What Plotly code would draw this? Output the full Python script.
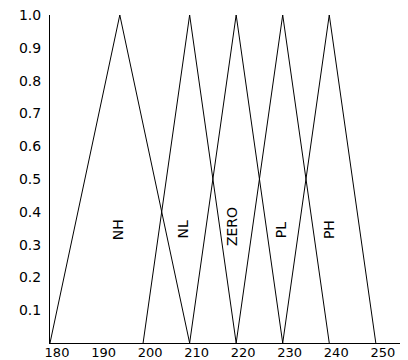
import plotly.graph_objects as go

names = ["NH", "NL", "ZERO", "PL", "PH"]
starts = [180, 200, 210, 220, 230]
peaks = [195, 210, 220, 230, 240]
ends = [210, 220, 230, 240, 250]
label_x = [194.5, 208.5, 219, 229.5, 240]
label_y = [0.345, 0.345, 0.355, 0.345, 0.345]
x_ticks = [180, 190, 200, 210, 220, 230, 240, 250]
y_ticks = [0.1, 0.2, 0.3, 0.4, 0.5, 0.6, 0.7, 0.8, 0.9, 1.0]

fig = go.Figure()
for n, s, p, e in zip(names, starts, peaks, ends):
    fig.add_trace(go.Scatter(x=[s, p, e], y=[0, 1, 0], mode="lines",
                             line=dict(color="black", width=1), name=n,
                             showlegend=False, hoverinfo="skip"))

for n, lx, ly in zip(names, label_x, label_y):
    fig.add_annotation(x=lx, y=ly, text=n, showarrow=False, textangle=-90,
                       font=dict(family="DejaVu Sans", size=14, color="black"))

font = dict(family="DejaVu Sans", size=14, color="black")
xfont = dict(family="DejaVu Sans", size=13, color="black")
fig.update_layout(
    width=408, height=360,
    margin=dict(l=50, r=8, t=15, b=17),
    plot_bgcolor="white", paper_bgcolor="white",
    xaxis=dict(range=[180, 255.2], tickvals=x_ticks, ticktext=[str(v) for v in x_ticks],
               showgrid=False, zeroline=False, showline=True, linecolor="black",
               linewidth=1, ticks="", tickfont=xfont, ticklabelshift=7,
               ticklabelstandoff=-3, automargin=False),
    yaxis=dict(range=[0, 1], tickvals=y_ticks, ticktext=[f"{v:.1f}" for v in y_ticks],
               showgrid=False, zeroline=False, showline=True, linecolor="black",
               linewidth=1, ticks="", tickfont=font, ticklabelstandoff=5,
               automargin=False),
)
fig.write_html("out.html", config={"displayModeBar": False},
               post_script="document.body.style.margin='0';document.body.style.overflow='hidden';")
